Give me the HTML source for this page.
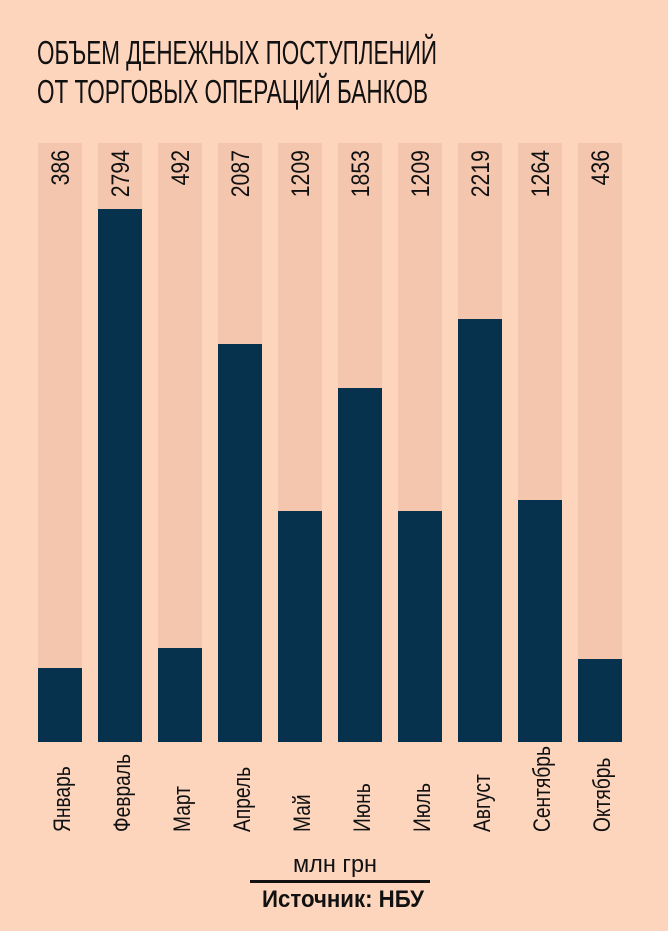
<!DOCTYPE html>
<html><head><meta charset="utf-8"><style>
html,body{margin:0;padding:0;background:#fdd5bd;}
svg{display:block;}
text{font-family:"Liberation Sans",sans-serif;fill:#111;}
</style></head><body>
<svg width="668" height="931" viewBox="0 0 668 931" xmlns="http://www.w3.org/2000/svg">
<rect width="668" height="931" fill="#fdd5bd"/>
<text x="37" y="64" font-size="33" textLength="400" lengthAdjust="spacingAndGlyphs">ОБЪЕМ ДЕНЕЖНЫХ ПОСТУПЛЕНИЙ</text>
<text x="37" y="103" font-size="33" textLength="391" lengthAdjust="spacingAndGlyphs">ОТ ТОРГОВЫХ ОПЕРАЦИЙ БАНКОВ</text>
<g fill="#f5c6ae">
<rect x="38" y="143" width="44" height="599"/><rect x="98" y="143" width="44" height="599"/>
<rect x="158" y="143" width="44" height="599"/><rect x="218" y="143" width="44" height="599"/>
<rect x="278" y="143" width="44" height="599"/><rect x="338" y="143" width="44" height="599"/>
<rect x="398" y="143" width="44" height="599"/><rect x="458" y="143" width="44" height="599"/>
<rect x="518" y="143" width="44" height="599"/><rect x="578" y="143" width="44" height="599"/>
</g>
<g fill="#06324e">
<rect x="38" y="668" width="44" height="74"/><rect x="98" y="209" width="44" height="533"/>
<rect x="158" y="648" width="44" height="94"/><rect x="218" y="344" width="44" height="398"/>
<rect x="278" y="511" width="44" height="231"/><rect x="338" y="388" width="44" height="354"/>
<rect x="398" y="511" width="44" height="231"/><rect x="458" y="319" width="44" height="423"/>
<rect x="518" y="500" width="44" height="242"/><rect x="578" y="659" width="44" height="83"/>
</g>
<g font-size="25" text-anchor="end">
<text transform="translate(69,150) rotate(-90) scale(0.85,1)">386</text>
<text transform="translate(129,150) rotate(-90) scale(0.85,1)">2794</text>
<text transform="translate(189,150) rotate(-90) scale(0.85,1)">492</text>
<text transform="translate(249,150) rotate(-90) scale(0.85,1)">2087</text>
<text transform="translate(309,150) rotate(-90) scale(0.85,1)">1209</text>
<text transform="translate(369,150) rotate(-90) scale(0.85,1)">1853</text>
<text transform="translate(429,150) rotate(-90) scale(0.85,1)">1209</text>
<text transform="translate(489,150) rotate(-90) scale(0.85,1)">2219</text>
<text transform="translate(549,150) rotate(-90) scale(0.85,1)">1264</text>
<text transform="translate(609,150) rotate(-90) scale(0.85,1)">436</text>
</g>
<g font-size="24">
<text transform="translate(70,832) rotate(-90) scale(0.8,1)">Январь</text>
<text transform="translate(130,832) rotate(-90) scale(0.8,1)">Февраль</text>
<text transform="translate(190,832) rotate(-90) scale(0.8,1)">Март</text>
<text transform="translate(250,832) rotate(-90) scale(0.8,1)">Апрель</text>
<text transform="translate(310,832) rotate(-90) scale(0.8,1)">Май</text>
<text transform="translate(370,832) rotate(-90) scale(0.8,1)">Июнь</text>
<text transform="translate(430,832) rotate(-90) scale(0.8,1)">Июль</text>
<text transform="translate(490,832) rotate(-90) scale(0.8,1)">Август</text>
<text transform="translate(550,832) rotate(-90) scale(0.8,1)">Сентябрь</text>
<text transform="translate(610,832) rotate(-90) scale(0.8,1)">Октябрь</text>
</g>
<text x="293" y="872" font-size="24" textLength="84" lengthAdjust="spacingAndGlyphs">млн грн</text>
<rect x="250" y="880" width="180" height="3" fill="#111"/>
<text x="262" y="907" font-size="24" font-weight="bold" textLength="162" lengthAdjust="spacingAndGlyphs">Источник: НБУ</text>
</svg>
</body></html>
